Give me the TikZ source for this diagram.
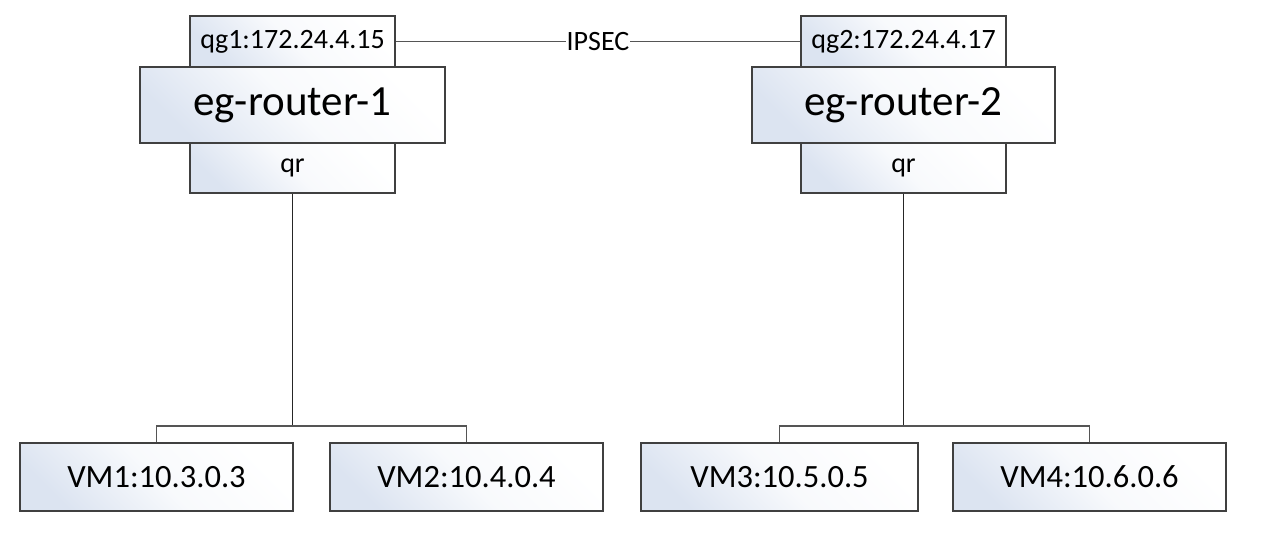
\documentclass[tikz,border=0pt]{standalone}
\usepackage{fontspec}
\setmainfont{Carlito}
\definecolor{boxline}{HTML}{404040}
\definecolor{boxtint}{HTML}{DCE4F1}
\definecolor{wire}{HTML}{555555}
\begin{document}
\begin{tikzpicture}[x=1pt,y=-1pt,
  box/.style={draw=boxline, line width=1.1pt, top color=boxtint, bottom color=white, middle color=white!80!boxtint, shading angle=135, inner sep=0pt, text=black},
  port/.style={box, minimum width=205pt, minimum height=51pt, font=\fontsize{28}{32}\selectfont},
  router/.style={box, minimum height=76pt, font=\fontsize{43}{48}\selectfont},
  vm/.style={box, minimum height=68pt, font=\fontsize{32.5}{36}\selectfont},
  wireline/.style={draw=wire, line width=1.2pt},
  trunk/.style={draw=black!85, line width=1.5pt}]
\useasboundingbox (0,0) rectangle (1266,546);
% router 1
\node[port] (qg1) at (292.5,41.5) {qg1:172.24.4.15};
\node[port, minimum height=50pt] (qr1) at (292.5,168) {qr};
\node[router, minimum width=305pt] (r1) at (292.5,105) {eg-router-1};
% router 2
\node[port] (qg2) at (903.5,41.5) {qg2:172.24.4.17};
\node[port, minimum height=50pt] (qr2) at (903.5,168) {qr};
\node[router, minimum width=303pt] (r2) at (903.5,105) {eg-router-2};
% VMs
\node[vm, minimum width=273pt] (vm1) at (156.5,477) {VM1:10.3.0.3};
\node[vm, minimum width=273pt] (vm2) at (466.5,477) {VM2:10.4.0.4};
\node[vm, minimum width=277pt] (vm3) at (779.5,477) {VM3:10.5.0.5};
\node[vm, minimum width=273pt] (vm4) at (1089.5,477) {VM4:10.6.0.6};
% connectors
\coordinate (j1) at (292.5,426);
\coordinate (j2) at (903.5,426);
\draw[trunk] (qr1.south) -- (j1);
\draw[trunk] (qr2.south) -- (j2);
\draw[wireline] (vm1.north) |- (j1) -| (vm2.north);
\draw[wireline] (vm3.north) |- (j2) -| (vm4.north);
\draw[wireline] (qg1.east) -- node[fill=white, inner sep=1pt, font=\fontsize{28}{32}\selectfont]{IPSEC} (qg2.west);
\end{tikzpicture}
\end{document}
